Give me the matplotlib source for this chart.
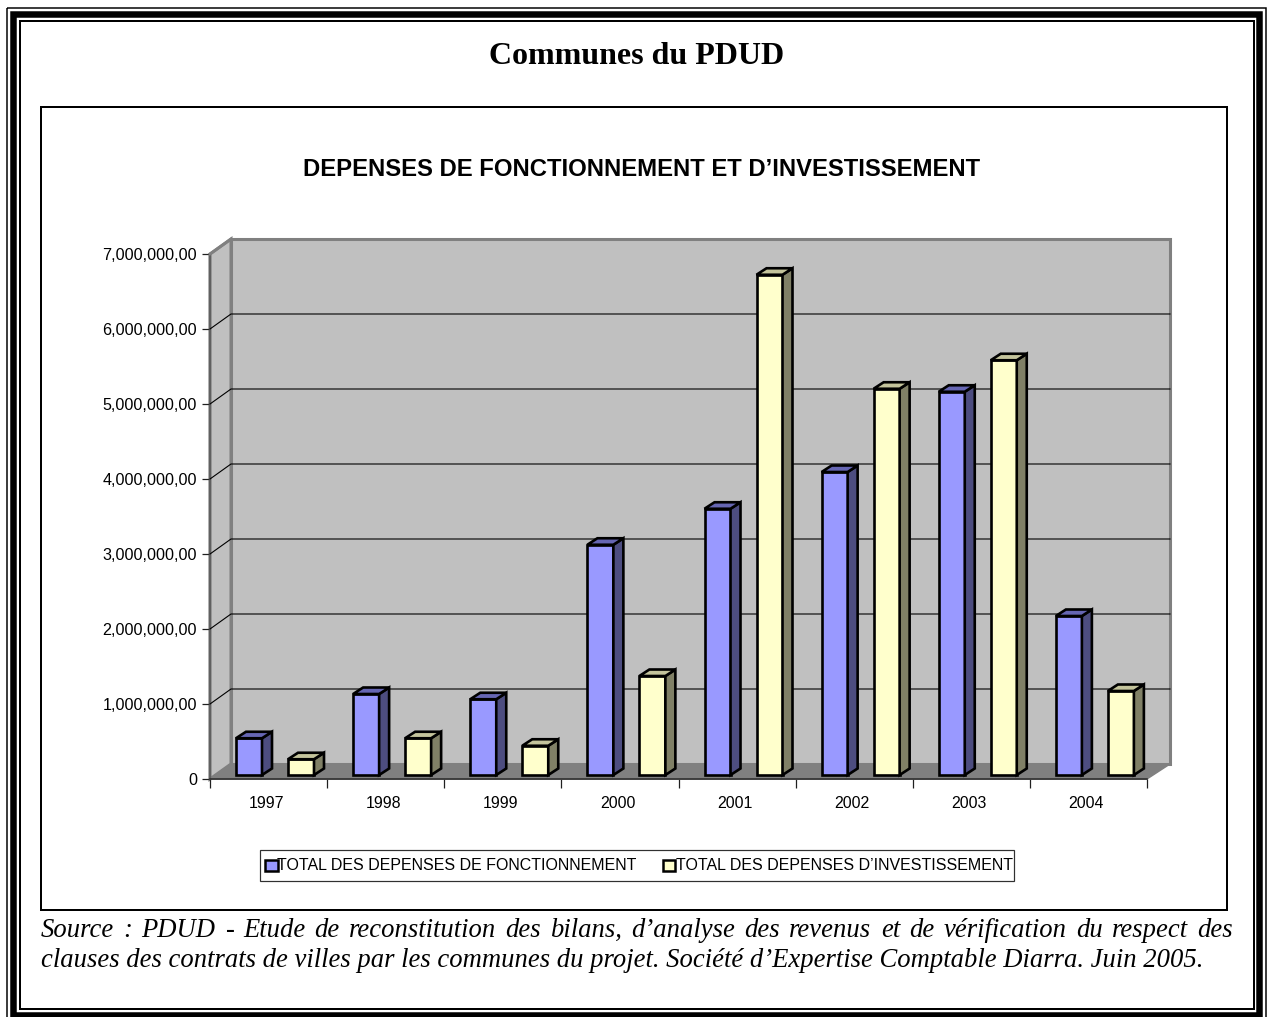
import matplotlib
matplotlib.use('Agg')
import matplotlib.pyplot as plt
from matplotlib.patches import Rectangle

W, H = 1268, 1017

annees = ['1997', '1998', '1999', '2000', '2001', '2002', '2003', '2004']
fonctionnement = [490000, 1080000, 1010000, 3070000, 3550000, 4040000, 5110000, 2120000]
investissement = [210000, 490000, 390000, 1320000, 6670000, 5150000, 5530000, 1120000]
graduations = [0, 1000000, 2000000, 3000000, 4000000, 5000000, 6000000, 7000000]
etiquettes_y = ['0', '1,000,000,00', '2,000,000,00', '3,000,000,00', '4,000,000,00',
                '5,000,000,00', '6,000,000,00', '7,000,000,00']
noms_series = ['TOTAL DES DEPENSES DE FONCTIONNEMENT', 'TOTAL DES DEPENSES D’INVESTISSEMENT']
titre = 'Communes du PDUD'
sous_titre = 'DEPENSES DE FONCTIONNEMENT ET D’INVESTISSEMENT'
source_1 = 'Source : PDUD - Etude de reconstitution des bilans, d’analyse des revenus et de vérification du respect des'
source_2 = 'clauses des contrats de villes par les communes du projet. Société d’Expertise Comptable Diarra. Juin 2005.'

SANS = 'Liberation Sans'
SERIF = 'Liberation Serif'


def cadre(fond, x0, y0, x1, y1, ep, couleur='black'):
    '''Rectangle vide, bords donnes en pixels, epaisseur en pixels.'''
    fond.add_patch(Rectangle((x0, y0), x1 - x0, y1 - y0, fill=False, ec=couleur,
                             lw=ep * 0.72, joinstyle='miter', clip_on=False))


def ligne_justifiee(fond, texte, x0, x1, y, taille):
    '''Place les mots un par un pour remplir la largeur x0-x1.'''
    rend = fig.canvas.get_renderer()
    mots = texte.split(' ')
    objets = [fond.text(x0, y, m, family=SERIF, style='italic', size=taille, va='baseline') for m in mots]
    larg = [o.get_window_extent(rend).width for o in objets]
    blanc = (x1 - x0 - sum(larg)) / (len(mots) - 1)
    x = x0
    for o, l in zip(objets, larg):
        o.set_x(x)
        x += l + blanc


def barre_3d(ax, x, valeur, larg, face, cote, dessus, px, py, base):
    '''Barre avec sa face laterale et son dessus, recul de 10x6.5 pixels.'''
    haut = base + valeur
    dx, dy = 10 * px, 6.5 * py
    trait = dict(edgecolor='black', linewidth=1.9, joinstyle='miter', clip_on=False, zorder=5)
    ax.bar(x, valeur, larg, bottom=base, align='edge', color=face, **trait)
    ax.fill([x + larg, x + larg + dx, x + larg + dx, x + larg],
            [base, base + dy, haut + dy, haut], facecolor=cote, **trait)
    ax.fill([x, x + dx, x + larg + dx, x + larg],
            [haut, haut + dy, haut + dy, haut], facecolor=dessus, **trait)


fig = plt.figure(figsize=(W / 100, H / 100), dpi=100, facecolor='white')

# fond en pixels : cadres, titres, legende, source
fond = fig.add_axes([0, 0, 1, 1])
fond.set_xlim(0, W)
fond.set_ylim(H, 0)
fond.axis('off')

cadre(fond, 6.5, 7.5, 1266, 1040, 1.5)
cadre(fond, 13, 14, 1259, 1015, 6.5)
cadre(fond, 20, 21, 1254, 1008.5, 2)
cadre(fond, 41, 107, 1227, 909.5, 2)

fond.text(637, 56, titre, family=SERIF, weight='bold', size=23, ha='center', va='center')
fond.text(642, 170, sous_titre, family=SANS, weight='bold', size=17.2, ha='center', va='center')

# legende
cadre(fond, 259.5, 850, 1014, 881, 1.2, '#303030')
fond.add_patch(Rectangle((265, 860), 13, 11, fc='#9999ff', ec='black', lw=1.8))
fond.add_patch(Rectangle((663, 860), 12, 11, fc='#ffffcc', ec='black', lw=1.8))
fond.text(277, 865, noms_series[0], family=SANS, size=11.5, va='center')
fond.text(676, 866, noms_series[1], family=SANS, size=11.5, va='center')

ligne_justifiee(fond, source_1, 41, 1233, 937, 19.2)
fond.text(41, 967, source_2, family=SERIF, style='italic', size=19.2, va='baseline')

# plan avant du graphique : 0-8 en x, 0-7 millions en y
ax = fig.add_axes([210 / W, 1 - 779 / H, 937 / W, 525 / H])
ax.patch.set_visible(False)
ax.set_xlim(0, 8)
ax.set_ylim(0, 7000000)
px = 8 / 937
py = 7000000 / 525
rx, rx2, ry = 21 * px, 23 * px, 15 * py

ax.fill([rx, 8 + rx2, 8 + rx2, rx], [ry, ry, 7000000 + ry, 7000000 + ry],
        facecolor='#c0c0c0', edgecolor='#808080', linewidth=2.2, clip_on=False, zorder=1)
ax.fill([0, rx, rx, 0], [0, ry, 7000000 + ry, 7000000],
        facecolor='#c0c0c0', edgecolor='#808080', linewidth=2.2, clip_on=False, zorder=1)
ax.fill([0, rx, 8 + rx2, 8], [0, ry, ry, 0], facecolor='#808080', edgecolor='#808080',
        linewidth=1, clip_on=False, zorder=2)

for v in graduations[1:-1]:
    ax.plot([0, rx, 8 + rx2], [v, v + ry, v + ry], color='black', lw=0.8, clip_on=False, zorder=3)
ax.plot([0, rx], [7000000, 7000000 + ry], color='#808080', lw=2, clip_on=False, zorder=3)

base = 4 * py
larg = 26 * px
for i in range(len(annees)):
    barre_3d(ax, i + 26 * px, fonctionnement[i], larg, '#9999ff', '#4d4d80', '#6666b3', px, py, base)
    barre_3d(ax, i + 78 * px, investissement[i], larg, '#ffffcc', '#808066', '#c4c49c', px, py, base)

for cote in ['top', 'right']:
    ax.spines[cote].set_visible(False)
ax.spines['left'].set_color('#606060')
ax.spines['left'].set_linewidth(1.6)
ax.spines['bottom'].set_color('#303030')
ax.spines['bottom'].set_linewidth(1.2)

ax.set_yticks(graduations, etiquettes_y, family=SANS, size=11.6)
ax.tick_params(axis='y', length=5.8, width=0.9, pad=3.6, color='#202020')
ax.set_xticks(range(9), [''] * 9)
ax.set_xticks([i + 0.48 for i in range(8)], annees, minor=True, family=SANS, size=11.4)
ax.tick_params(axis='x', which='major', length=6.5, width=0.9, color='#202020')
ax.tick_params(axis='x', which='minor', length=0, pad=12)

fig.savefig('out.png', dpi=100)
